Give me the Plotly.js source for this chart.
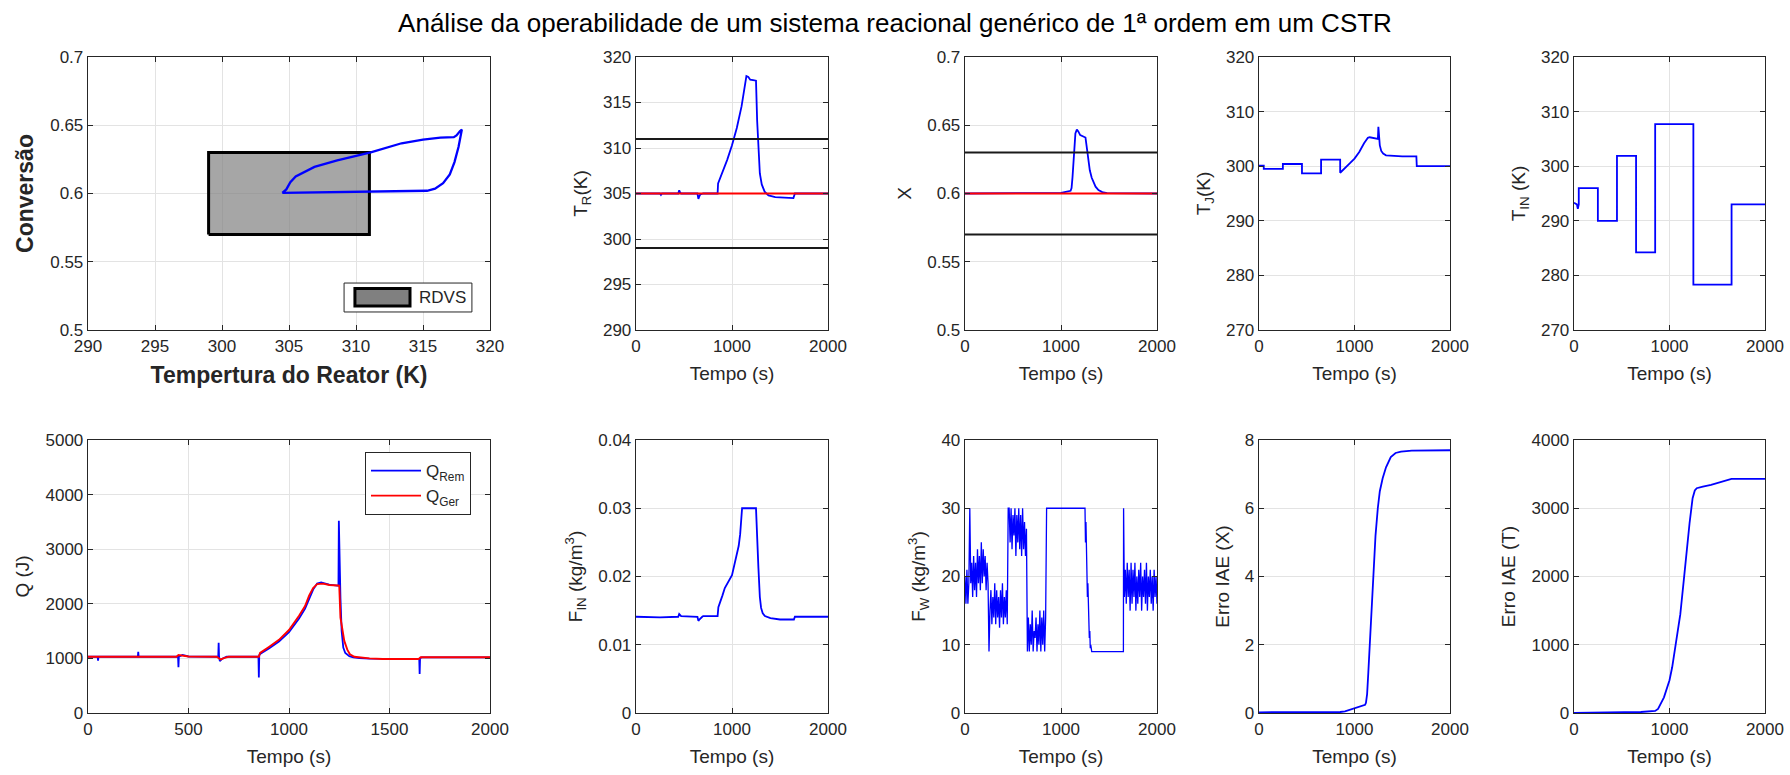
<!DOCTYPE html>
<html><head><meta charset="utf-8">
<script src="https://cdn.plot.ly/plotly-3.0.1.min.js"></script>
<style>html,body{margin:0;padding:0;background:#fff;overflow:hidden}</style>
</head><body><div id="chart" style="width:1790px;height:775px"></div>
<script>
// ---------- DATA ----------
var figTitle = 'Análise da operabilidade de um sistema reacional genérico de 1ª ordem em um CSTR';

// RDVS region and set points
var rdvsTemp = [299, 311];
var rdvsConv = [0.57, 0.63];
var spTemp = 305;
var spConv = 0.6;
var timeSpan = [0, 2000];

// phase trajectory (reactor temperature vs conversion)
var phaseTemp = [304.5, 306.0, 308.0, 310.0, 312.0, 314.0, 315.3, 315.9, 316.5, 317.0, 317.35, 317.65, 317.85, 317.9, 317.75, 317.5, 317.3, 316.3, 315.0, 313.4, 311.1, 308.6, 306.9, 306.2, 305.5, 305.1, 304.8, 304.5];
var phaseConv = [0.6005, 0.6007, 0.6009, 0.6011, 0.6013, 0.6016, 0.6020, 0.6035, 0.6075, 0.614, 0.623, 0.634, 0.643, 0.6468, 0.6455, 0.6425, 0.6413, 0.6410, 0.6395, 0.6368, 0.6302, 0.6243, 0.6195, 0.6160, 0.6125, 0.6083, 0.6030, 0.6005];

// reactor temperature
var trTime = [0, 250, 260, 270, 440, 450, 460, 470, 640, 650, 660, 670, 700, 850, 855, 900, 950, 1000, 1050, 1100, 1130, 1150, 1170, 1190, 1220, 1250, 1262, 1275, 1290, 1310, 1340, 1380, 1450, 1640, 1655, 1700, 2000];
var trTemp = [305.0, 305.0, 304.85, 305.0, 305.0, 305.35, 305.1, 305.0, 305.0, 304.4, 304.7, 304.9, 305.0, 305.0, 306.1, 307.3, 308.7, 310.3, 312.2, 314.6, 316.8, 317.9, 317.8, 317.5, 317.45, 317.4, 313.0, 309.5, 307.2, 306.0, 305.2, 304.8, 304.6, 304.5, 305.0, 305.0, 305.0];

// conversion
var xTime = [0, 850, 1000, 1100, 1110, 1120, 1130, 1140, 1150, 1165, 1180, 1200, 1230, 1255, 1270, 1285, 1300, 1320, 1340, 1360, 1390, 1430, 1480, 2000];
var xConv = [0.600, 0.6002, 0.6005, 0.602, 0.604, 0.612, 0.625, 0.637, 0.644, 0.6468, 0.6455, 0.6428, 0.6415, 0.641, 0.633, 0.623, 0.617, 0.6115, 0.6078, 0.605, 0.6025, 0.601, 0.6003, 0.600];

// jacket temperature
var tjTime = [0, 50, 50, 250, 250, 450, 450, 650, 650, 850, 850, 900, 950, 1000, 1050, 1100, 1140, 1160, 1200, 1245, 1250, 1256, 1265, 1280, 1300, 1330, 1400, 1500, 1648, 1652, 2000];
var tjTemp = [300.1, 300.1, 299.5, 299.5, 300.4, 300.4, 298.7, 298.7, 301.2, 301.2, 298.8, 299.6, 300.5, 301.4, 302.6, 304.2, 305.2, 305.3, 305.1, 305.0, 307.2, 305.0, 303.8, 302.8, 302.3, 302.0, 301.9, 301.8, 301.8, 300.0, 300.0];

// inlet temperature
var tinTime = [0, 30, 40, 50, 50, 250, 250, 450, 450, 650, 650, 850, 850, 1250, 1250, 1650, 1650, 2000];
var tinTemp = [293.3, 293.0, 292.2, 293.0, 296.0, 296.0, 290.0, 290.0, 301.9, 301.9, 284.2, 284.2, 307.7, 307.7, 278.3, 278.3, 293.0, 293.0];

// heat removed / generated
var qRemTime = [0, 48, 50, 52, 248, 250, 252, 448, 450, 452, 470, 500, 648, 650, 652, 656, 668, 690, 848, 850, 852, 860, 900, 950, 1000, 1050, 1080, 1100, 1120, 1140, 1160, 1200, 1246, 1248, 1251, 1256, 1262, 1270, 1280, 1290, 1300, 1320, 1350, 1400, 1500, 1648, 1650, 1652, 1660, 2000];
var qRem = [1030, 1030, 960, 1030, 1030, 1120, 1030, 1030, 840, 1030, 1065, 1035, 1030, 1285, 1030, 950, 995, 1030, 1030, 650, 1060, 1090, 1180, 1310, 1480, 1730, 1910, 2080, 2260, 2370, 2390, 2350, 2330, 3520, 2900, 2100, 1500, 1200, 1100, 1060, 1040, 1020, 1005, 995, 990, 990, 715, 1000, 1020, 1020];
var qGerTime = [0, 440, 450, 470, 500, 640, 650, 660, 680, 700, 850, 856, 900, 950, 1000, 1050, 1080, 1100, 1120, 1140, 1170, 1200, 1245, 1250, 1256, 1265, 1275, 1290, 1303, 1325, 1351, 1400, 1466, 1645, 1655, 2000];
var qGer = [1030, 1030, 1060, 1045, 1035, 1030, 1010, 980, 1010, 1030, 1030, 1100, 1210, 1340, 1520, 1780, 1960, 2150, 2290, 2360, 2370, 2345, 2335, 2330, 1745, 1500, 1320, 1160, 1077, 1030, 1016, 1000, 990, 990, 1020, 1020];

// inlet flow
var finTime = [0, 250, 440, 450, 470, 640, 650, 660, 690, 700, 850, 858, 900, 925, 1000, 1040, 1070, 1085, 1095, 1105, 1250, 1262, 1275, 1290, 1303, 1320, 1343, 1400, 1500, 1645, 1655, 2000];
var finFlow = [0.0141, 0.0140, 0.0141, 0.0145, 0.0142, 0.0141, 0.0135, 0.0137, 0.0141, 0.0142, 0.0142, 0.0155, 0.0172, 0.0183, 0.0202, 0.0225, 0.0245, 0.0262, 0.0280, 0.0300, 0.0300, 0.0250, 0.0213, 0.0170, 0.0154, 0.0146, 0.0142, 0.0139, 0.0137, 0.0137, 0.0141, 0.0141];

// coolant flow
var fwTime = [0, 10, 20, 30, 40, 50,
  60, 70, 80, 90, 100, 110, 120, 130, 140, 150, 160, 170, 180, 190, 200, 210, 220, 230, 240,
  250,
  260, 270, 280, 290, 300, 310, 320, 330, 340, 350, 360, 370, 380, 390, 400, 410, 420, 430, 440,
  450,
  460, 470, 480, 490, 500, 510, 520, 530, 540, 550, 560, 570, 580, 590, 600, 610, 620, 630, 640,
  650,
  660, 670, 680, 690, 700, 710, 720, 730, 740, 750, 760, 770, 780, 790, 800, 810, 820, 830, 840,
  850, 1250,
  1255, 1260, 1265, 1270, 1275, 1280, 1285, 1290, 1295, 1300, 1305, 1310, 1320, 1330,
  1650, 1652, 1660,
  1670, 1680, 1690, 1700, 1710, 1720, 1730, 1740, 1750, 1760, 1770, 1780, 1790, 1800, 1810, 1820, 1830, 1840, 1850, 1860, 1870, 1880, 1890, 1900, 1910, 1920, 1930, 1940, 1950, 1960, 1970, 1980, 1990, 2000];
var fwFlow = [20, 16, 21, 16, 19, 30,
  19, 22, 17, 23, 18, 22, 17, 24, 19, 23, 18, 25, 19, 24, 20, 23, 18, 22, 19,
  9,
  15, 18, 13, 17, 14, 19, 13, 18, 14, 17, 12.5, 18, 14, 19, 13, 17, 14, 18, 13,
  30,
  30, 25, 30, 24, 29, 26, 30, 23, 29, 25, 30, 24, 29, 23, 30, 24, 28, 23, 27,
  9,
  14, 9, 13, 10, 15, 9, 12, 11, 14, 9, 13, 10, 15, 9, 14, 10, 15, 9, 14,
  30, 30,
  25, 28, 21, 23, 17, 19, 14, 15, 11, 12, 9.5, 10, 9, 9,
  9, 30, 17,
  21, 16, 22, 17, 21, 15, 22, 16, 21, 17, 22, 15, 20, 16, 21, 17, 22, 15, 20, 17, 21, 16, 22, 15, 20, 17, 21, 16, 20, 15, 21, 17, 20, 16];

// IAE errors
var iaeXTime = [0, 500, 850, 900, 950, 1000, 1050, 1111, 1120, 1132, 1145, 1155, 1167, 1185, 1201, 1220, 1244, 1265, 1295, 1330, 1380, 1430, 1487, 1600, 2000];
var iaeX = [0.02, 0.02, 0.03, 0.05, 0.09, 0.13, 0.18, 0.24, 0.30, 0.55, 1.2, 1.7, 2.3, 3.3, 4.25, 5.2, 6.0, 6.5, 6.88, 7.2, 7.5, 7.62, 7.66, 7.69, 7.70];
var iaeTTime = [0, 400, 700, 850, 880, 942, 1000, 1028, 1070, 1113, 1150, 1178, 1210, 1242, 1265, 1285, 1320, 1349, 1435, 1542, 1649, 2000];
var iaeT = [0, 5, 15, 30, 60, 230, 480, 670, 1050, 1445, 1950, 2370, 2780, 3148, 3260, 3294, 3310, 3318, 3343, 3392, 3431, 3431];

// ticks
var convTicks = [0.5, 0.55, 0.6, 0.65, 0.7];
var tempTicksA = [290, 295, 300, 305, 310, 315, 320];
var tempTicksB = [270, 280, 290, 300, 310, 320];
var timeTicks = [0, 1000, 2000];
var qTimeTicks = [0, 500, 1000, 1500, 2000];
var qTicks = [0, 1000, 2000, 3000, 4000, 5000];
var finTicks = [0, 0.01, 0.02, 0.03, 0.04];
var fwTicks = [0, 10, 20, 30, 40];
var iaeXTicks = [0, 2, 4, 6, 8];
var iaeTTicks = [0, 1000, 2000, 3000, 4000];

// ---------- STYLE / LAYOUT ----------
var W = 1790, H = 775;
var AX = '#262626', GRID = '#e3e3e3', BLUE = '#0000ff', RED = '#ff0000', BLACK = '#1a1a1a';
var FONT = 'Liberation Sans, Arial, Helvetica, sans-serif';
var colPx = [[88, 490], [636, 828], [965, 1157], [1259, 1450], [1574, 1765]];
var rowPx = [[57, 330], [440, 713]];
function xd(c) { return [colPx[c][0] / W, colPx[c][1] / W]; }
function yd(r) { return [1 - rowPx[r][1] / H, 1 - rowPx[r][0] / H]; }

function axis(dom, range, ticks, title, tfont, anchor, standoff) {
  return {
    domain: dom, range: range, anchor: anchor,
    tickmode: 'array', tickvals: ticks, ticktext: ticks.map(String),
    showline: true, mirror: 'ticks', linecolor: AX, linewidth: 1.3,
    ticks: 'inside', ticklen: 5, tickwidth: 1, tickcolor: AX,
    showgrid: true, gridcolor: GRID, gridwidth: 1, zeroline: false,
    tickfont: {size: 17, color: AX, family: FONT},
    automargin: false, fixedrange: true,
    title: {text: title, font: tfont || {size: 19, color: AX, family: FONT}, standoff: standoff}
  };
}
var boldFont = {size: 23, color: AX, family: FONT};

var layout = {
  width: W, height: H, margin: {l: 0, r: 0, t: 0, b: 0},
  paper_bgcolor: '#fff', plot_bgcolor: '#fff',
  font: {family: FONT, color: AX},
  showlegend: true,
  title: {text: figTitle, x: 0.5, xanchor: 'center', y: 1 - 23 / H, yanchor: 'middle', yref: 'container',
          font: {size: 26, color: '#000', family: FONT}},
  legend: {x: 365 / W, y: 1 - 452 / H, xanchor: 'left', yanchor: 'top', bgcolor: '#fff',
           bordercolor: AX, borderwidth: 1, font: {size: 17, color: AX, family: FONT}, itemwidth: 50},
  xaxis:  axis(xd(0), [290, 320], tempTicksA, '<b>Tempertura do Reator (K)</b>', boldFont, 'y', 12),
  yaxis:  axis(yd(0), [0.5, 0.7], convTicks, '<b>Conversão</b>', boldFont, 'x', 10),
  xaxis2: axis(xd(1), timeSpan, timeTicks, 'Tempo (s)', null, 'y2', 12),
  yaxis2: axis(yd(0), [290, 320], tempTicksA, 'T<sub>R</sub>(K)', null, 'x2', 10),
  xaxis3: axis(xd(2), timeSpan, timeTicks, 'Tempo (s)', null, 'y3', 12),
  yaxis3: axis(yd(0), [0.5, 0.7], convTicks, 'X', null, 'x3', 10),
  xaxis4: axis(xd(3), timeSpan, timeTicks, 'Tempo (s)', null, 'y4', 12),
  yaxis4: axis(yd(0), [270, 320], tempTicksB, 'T<sub>J</sub>(K)', null, 'x4', 10),
  xaxis5: axis(xd(4), timeSpan, timeTicks, 'Tempo (s)', null, 'y5', 12),
  yaxis5: axis(yd(0), [270, 320], tempTicksB, 'T<sub>IN</sub> (K)', null, 'x5', 10),
  xaxis6: axis(xd(0), timeSpan, qTimeTicks, 'Tempo (s)', null, 'y6', 12),
  yaxis6: axis(yd(1), [0, 5000], qTicks, 'Q (J)', null, 'x6', 10),
  xaxis7: axis(xd(1), timeSpan, timeTicks, 'Tempo (s)', null, 'y7', 12),
  yaxis7: axis(yd(1), [0, 0.04], finTicks, 'F<sub>IN</sub> (kg/m<sup>3</sup>)', null, 'x7', 10),
  xaxis8: axis(xd(2), timeSpan, timeTicks, 'Tempo (s)', null, 'y8', 12),
  yaxis8: axis(yd(1), [0, 40], fwTicks, 'F<sub>W</sub> (kg/m<sup>3</sup>)', null, 'x8', 10),
  xaxis9: axis(xd(3), timeSpan, timeTicks, 'Tempo (s)', null, 'y9', 12),
  yaxis9: axis(yd(1), [0, 8], iaeXTicks, 'Erro IAE (X)', null, 'x9', 10),
  xaxis10: axis(xd(4), timeSpan, timeTicks, 'Tempo (s)', null, 'y10', 12),
  yaxis10: axis(yd(1), [0, 4000], iaeTTicks, 'Erro IAE (T)', null, 'x10', 10),
  // hand-made legend for the RDVS patch (axis-domain coordinates of the first panel)
  shapes: [
    {type: 'rect', xref: 'x domain', yref: 'y domain', x0: 0.637, x1: 0.955, y0: 0.066, y1: 0.172,
     fillcolor: '#fff', line: {color: AX, width: 1}},
    {type: 'rect', xref: 'x domain', yref: 'y domain', x0: 0.664, x1: 0.801, y0: 0.088, y1: 0.152,
     fillcolor: '#808080', line: {color: '#000', width: 3}}
  ],
  annotations: [
    {text: 'RDVS', xref: 'x domain', yref: 'y domain', x: 0.818, y: 0.118, xanchor: 'left', yanchor: 'middle',
     showarrow: false, font: {size: 17, color: AX, family: FONT}}
  ]
};

function line(x, y, xa, ya, color, width, extra) {
  var t = {type: 'scatter', mode: 'lines', x: x, y: y, xaxis: xa, yaxis: ya,
           line: {color: color, width: width}, showlegend: false, hoverinfo: 'skip'};
  if (extra) for (var k in extra) t[k] = extra[k];
  return t;
}

var rectX = [rdvsTemp[0], rdvsTemp[1], rdvsTemp[1], rdvsTemp[0], rdvsTemp[0]];
var rectY = [rdvsConv[0], rdvsConv[0], rdvsConv[1], rdvsConv[1], rdvsConv[0]];

var data = [
  // panel 1
  line(rectX, rectY, 'x', 'y', '#000', 3, {fill: 'toself', fillcolor: 'rgba(128,128,128,0.7)'}),
  line(phaseTemp, phaseConv, 'x', 'y', BLUE, 2.3),
  // TR
  line(trTime, trTemp, 'x2', 'y2', BLUE, 1.8),
  line(timeSpan, [spTemp, spTemp], 'x2', 'y2', RED, 2),
  line(timeSpan, [rdvsTemp[1], rdvsTemp[1]], 'x2', 'y2', BLACK, 2),
  line(timeSpan, [rdvsTemp[0], rdvsTemp[0]], 'x2', 'y2', BLACK, 2),
  // X
  line(xTime, xConv, 'x3', 'y3', BLUE, 1.8),
  line(timeSpan, [spConv, spConv], 'x3', 'y3', RED, 2),
  line(timeSpan, [rdvsConv[1], rdvsConv[1]], 'x3', 'y3', BLACK, 2),
  line(timeSpan, [rdvsConv[0], rdvsConv[0]], 'x3', 'y3', BLACK, 2),
  // TJ, TIN
  line(tjTime, tjTemp, 'x4', 'y4', BLUE, 1.8),
  line(tinTime, tinTemp, 'x5', 'y5', BLUE, 1.8),
  // Q
  line(qRemTime, qRem, 'x6', 'y6', BLUE, 1.8, {showlegend: true, name: 'Q<sub>Rem</sub>'}),
  line(qGerTime, qGer, 'x6', 'y6', RED, 1.9, {showlegend: true, name: 'Q<sub>Ger</sub>'}),
  // FIN, FW
  line(finTime, finFlow, 'x7', 'y7', BLUE, 1.8),
  line(fwTime, fwFlow, 'x8', 'y8', BLUE, 1.3),
  // IAE
  line(iaeXTime, iaeX, 'x9', 'y9', BLUE, 1.8),
  line(iaeTTime, iaeT, 'x10', 'y10', BLUE, 1.8)
];

Plotly.newPlot('chart', data, layout, {staticPlot: true, displayModeBar: false});
</script></body></html>
